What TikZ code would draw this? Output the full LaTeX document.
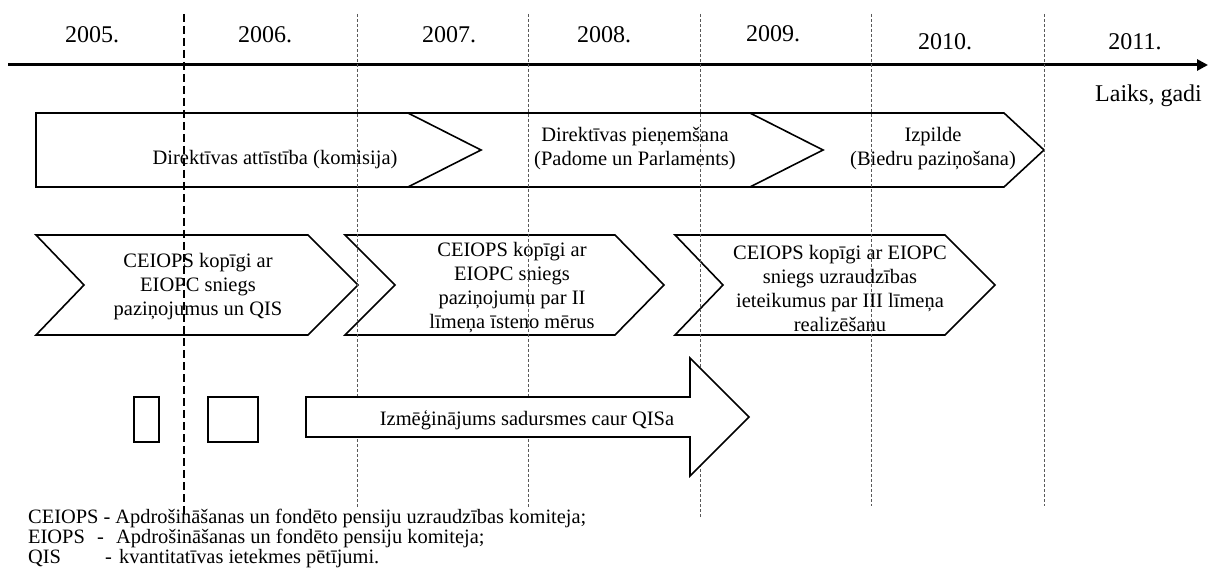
\documentclass[tikz,border=0pt]{standalone}
\usepackage{fontspec}
\setmainfont{Liberation Serif}
\usetikzlibrary{arrows.meta}
\begin{document}
\begin{tikzpicture}[x=1pt,y=-1pt,
  shp/.style={draw=black, line width=1.6pt, line join=miter},
  txt/.style={font=\fontsize{20.5}{24}\selectfont, inner sep=0pt, align=center},
  lgd/.style={font=\fontsize{20.4}{20}\selectfont, inner sep=0pt, anchor=base west},
  yr/.style={font=\fontsize{24}{28}\selectfont, inner sep=0pt, anchor=base},
  gridln/.style={draw=black!65, line width=0.8pt, dash pattern=on 3pt off 2pt},
  maingrid/.style={draw=black, line width=1.2pt, dash pattern=on 8pt off 4pt}]
\useasboundingbox (0,0) rectangle (1209,569);

% years
\node[yr] (y05) at (92,43) {2005.};
\node[yr] (y06) at (265,43) {2006.};
\node[yr] (y07) at (449,43) {2007.};
\node[yr] (y08) at (604,43) {2008.};
\node[yr] (y09) at (773,42) {2009.};
\node[yr] (y10) at (945,50) {2010.};
\node[yr] (y11) at (1135,50) {2011.};
\node[yr, anchor=base west] (laiks) at (1095,102) {Laiks, gadi};

% axis
\coordinate (axs) at (8,65);
\coordinate (axe) at (1208,65);
\draw[line width=3pt, -{Triangle[length=11pt,width=11pt]}] (axs) -- (axe);

% row 1
\draw[shp] (36,113) -- (408,113) -- (481,150) -- (408,187) -- (36,187) -- cycle;
\draw[line width=2.4pt] (36,112) -- (36,188);
\draw[shp] (408,113) -- (750,113) -- (823,150) -- (750,187) -- (408,187);
\draw[shp] (750,113) -- (1004,113) -- (1044,150) -- (1004,187) -- (750,187);
\node[txt, anchor=base] (r1a) at (275,165) {Direktīvas attīstība (komisija)};
\node[txt] (r1b) at (635,149) {Direktīvas pieņemšana\\(Padome un Parlaments)};
\node[txt] (r1c) at (933,149) {Izpilde\\(Biedru paziņošana)};

% row 2
\draw[shp] (36,235) -- (308,235) -- (358,285) -- (308,335) -- (36,335) -- (84,285) -- cycle;
\draw[shp] (345,235) -- (615,235) -- (664,285) -- (615,335) -- (345,335) -- (395,285) -- cycle;
\draw[shp] (675,235) -- (945,235) -- (995,285) -- (945,335) -- (675,335) -- (723,285) -- cycle;
\node[txt] (r2a) at (198,287) {CEIOPS kopīgi ar\\EIOPC sniegs\\paziņojumus un QIS};
\node[txt] (r2b) at (512,288) {CEIOPS kopīgi ar\\EIOPC sniegs\\paziņojumu par II\\līmeņa īsteno mērus};
\node[txt] (r2c) at (840,288) {CEIOPS kopīgi ar EIOPC\\sniegs uzraudzības\\ieteikumus par III līmeņa\\realizēšanu};

% dashed year separators
\coordinate (v1t) at (184,14); \coordinate (v1b) at (184,514);
\coordinate (v2t) at (357,14); \coordinate (v2b) at (357,508);
\coordinate (v3t) at (528,14); \coordinate (v3b) at (528,508);
\coordinate (v4t) at (700,14); \coordinate (v4b) at (700,518);
\coordinate (v5t) at (871,14); \coordinate (v5b) at (871,506);
\coordinate (v6t) at (1044,14); \coordinate (v6b) at (1044,506);
\draw[maingrid] (v1t) -- (v1b);
\draw[gridln] (v2t) -- (v2b);
\draw[gridln] (v3t) -- (v3b);
\draw[gridln] (v4t) -- (v4b);
\draw[gridln] (v5t) -- (v5b);
\draw[gridln] (v6t) -- (v6b);

% row 3
\draw[line width=2pt] (134,397) rectangle (159,442);
\draw[line width=2pt] (208,397) rectangle (258,442);
\draw[shp, fill=white] (306,397) -- (690,397) -- (690,358) -- (749,417) -- (690,476) -- (690,437) -- (306,437) -- cycle;
\node[txt, anchor=base] (r3) at (527,425) {Izmēģinājums sadursmes caur QISa};

% legend
\node[lgd] (l1) at (28,523) {CEIOPS - Apdrošināšanas un fondēto pensiju uzraudzības komiteja;};
\node[lgd] (l2a) at (28,543) {EIOPS};
\node[lgd] (l2b) at (97,543) {-};
\node[lgd] (l2c) at (116,543) {Apdrošināšanas un fondēto pensiju komiteja;};
\node[lgd] (l3a) at (28,563) {QIS};
\node[lgd] (l3b) at (105,563) {-};
\node[lgd] (l3c) at (119,563) {kvantitatīvas ietekmes pētījumi.};
\end{tikzpicture}
\end{document}
